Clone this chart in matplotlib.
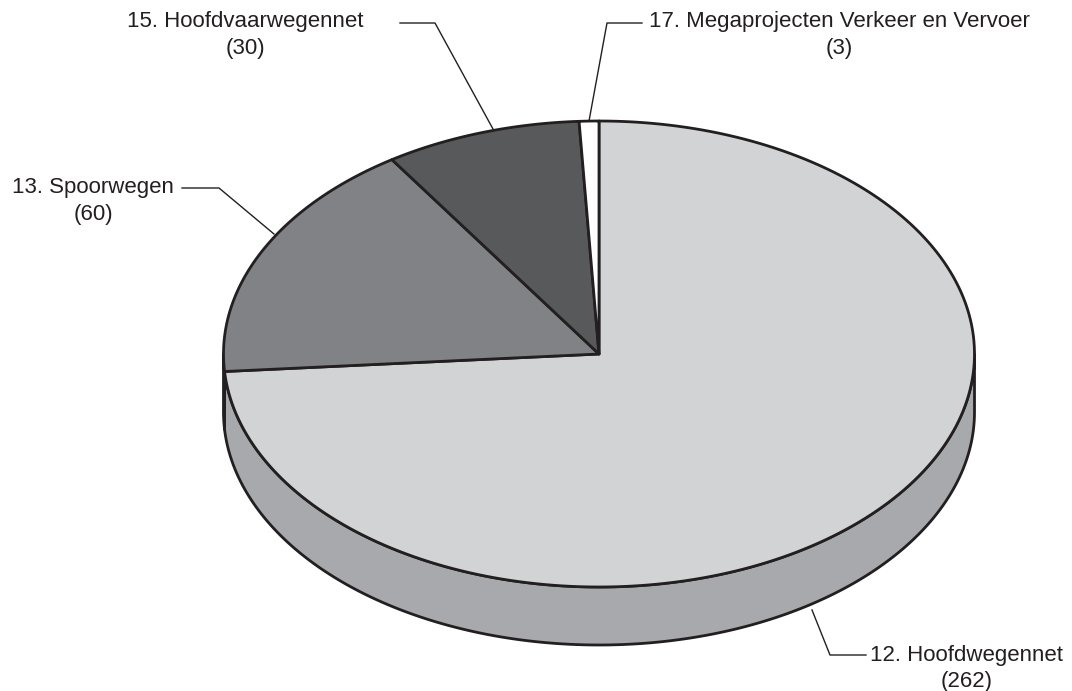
import numpy as np
import matplotlib
matplotlib.use("Agg")
import matplotlib.pyplot as plt
from matplotlib.patches import Polygon

# data of the chart
labels = ["12. Hoofdwegennet", "13. Spoorwegen", "15. Hoofdvaarwegennet",
          "17. Megaprojecten Verkeer en Vervoer"]
values = [262, 60, 30, 3]
top_colors = ["#d1d3d4", "#808285", "#58595b", "#ffffff"]
side_colors = ["#a7a9ac", "#6d6e71", "#4a4b4d", "#e6e6e6"]

# geometry of the 3d pie (in pixels)
cx, cy = 599, 354
ra, rb = 375.5, 233
depth = 58
edge = "#231f20"

plt.rcParams["font.family"] = ["Liberation Sans", "DejaVu Sans"]

def arc(t0, t1, n=200):
    t = np.radians(np.linspace(t0, t1, n))
    return np.column_stack([cx + ra * np.cos(t), cy - rb * np.sin(t)])

fig = plt.figure(figsize=(10.72, 6.91), dpi=100)
ax = fig.add_axes([0, 0, 1, 1])
ax.set_xlim(0, 1072)
ax.set_ylim(691, 0)
ax.axis("off")

# angles of the wedges, clockwise from the top
total = float(sum(values))
ends = 90 - np.cumsum([0] + values) / total * 360
wedges = [(ends[i + 1], ends[i]) for i in range(len(values))]

# side wall (only the front half is visible)
for (t0, t1), c in zip(wedges, side_colors):
    for lo, hi in [(-180, 0), (180, 360)]:
        a0, a1 = max(t0, lo), min(t1, hi)
        if a1 - a0 <= 0:
            continue
        top = arc(a0, a1)
        bottom = top[::-1].copy()
        bottom[:, 1] += depth
        ax.add_patch(Polygon(np.vstack([top, bottom]), closed=True,
                             facecolor=c, edgecolor=edge, lw=2.0, joinstyle="round"))

# top of the pie
for (t0, t1), c in zip(wedges, top_colors):
    pts = np.vstack([[cx, cy], arc(t0, t1)])
    ax.add_patch(Polygon(pts, closed=True, facecolor=c, edgecolor=edge,
                         lw=2.0, joinstyle="round"))

# labels with leader lines
def label(name, val, tx, ty, line_x, line_y):
    ax.plot(line_x, line_y, color=edge, lw=1.0)
    ax.text(tx, ty, name, fontsize=16, ha="center", va="center", color=edge)
    ax.text(tx, ty + 27, "(%d)" % val, fontsize=16, ha="center", va="center", color=edge)

label(labels[0], values[0], 967, 655, [812, 830, 866], [610, 655, 655])
label(labels[1], values[1], 93, 187, [182, 219, 274], [188, 188, 234])
label(labels[2], values[2], 245, 21, [400, 435, 493], [23, 23, 129])
label(labels[3], values[3], 839, 21, [642, 607, 589], [23, 23, 121])

fig.savefig("out.png", dpi=100)
